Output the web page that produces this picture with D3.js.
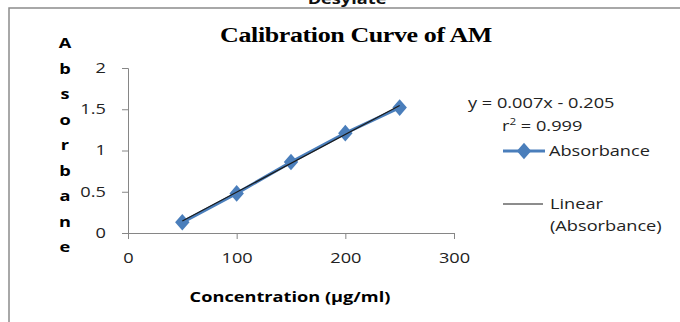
<!DOCTYPE html>
<html><head><meta charset="utf-8">
<script src="https://cdn.jsdelivr.net/npm/d3@7"></script>
<style>body{margin:0;background:#fff}svg{display:block}</style>
</head><body>
<script>
const concentrations = [50, 100, 150, 200, 250];
const absorbance = [0.13, 0.48, 0.86, 1.21, 1.52];
const xTicks = [0, 100, 200, 300];
const yTicks = [0, 0.5, 1, 1.5, 2];
const slope = 0.007, intercept = -0.205;
const yLabelLetters = ["A","b","s","o","r","b","a","n","e"];

const W = 680, H = 322;
const SX = 1.3; // horizontal stretch of the reference picture
const svg = d3.select("body").append("svg").attr("width", W).attr("height", H);
const sans = "'Open Sans', 'DejaVu Sans', sans-serif";
const serif = "'Liberation Serif', 'Times New Roman', serif";

function txt(xp, yp, s, opts = {}) {
  const g = svg.append("g").attr("transform", `translate(${xp},${yp}) scale(${SX},1)`);
  const t = g.append("text")
    .attr("text-anchor", opts.anchor || "start")
    .attr("font-family", opts.family || sans)
    .attr("font-weight", opts.weight || "normal")
    .attr("font-size", opts.size || 14)
    .attr("fill", opts.fill || "#222");
  if (opts.html) t.html(s); else t.text(s);
  return t;
}

// outer frame
svg.append("rect").attr("x", 9).attr("y", 8).attr("width", W).attr("height", H)
  .attr("fill", "none").attr("stroke", "#8c8c8c").attr("stroke-width", 1.5);

// cut-off heading above
txt(347, 4, "Desylate", { anchor: "middle", weight: "bold", size: 14, fill: "#111" });

const x = d3.scaleLinear().domain([0, 300]).range([128, 454]);
const y = d3.scaleLinear().domain([0, 2]).range([233, 68]);

const axisColor = "#868686";
const gx = svg.append("g").attr("transform", `translate(0,${y(0)})`)
  .call(d3.axisBottom(x).tickValues(xTicks).tickSize(6).tickPadding(14).tickFormat(d3.format("d")));
const gy = svg.append("g").attr("transform", `translate(${x(0)},0)`)
  .call(d3.axisLeft(y).tickValues(yTicks).tickSize(6).tickPadding(11).tickFormat(d => d));
[gx, gy].forEach(g => {
  g.select(".domain").attr("stroke", axisColor);
  g.selectAll(".tick line").attr("stroke", axisColor);
  g.selectAll(".tick text").attr("fill", "#222").attr("font-family", sans).attr("font-size", 14)
    .attr("transform", `scale(${SX},1)`);
});

// data series
const pts = concentrations.map((c, i) => [c, absorbance[i]]);
const blue = "#4a7ebb";
svg.append("path").datum(pts)
  .attr("d", d3.line().x(d => x(d[0])).y(d => y(d[1])))
  .attr("fill", "none").attr("stroke", blue).attr("stroke-width", 3.2);
const diamond = d3.symbol().type(d3.symbolDiamond).size(80);
svg.selectAll(".pt").data(pts).enter().append("path")
  .attr("transform", d => `translate(${x(d[0])},${y(d[1])}) scale(1.5,1)`)
  .attr("d", diamond).attr("fill", blue);

// trendline
const xr = d3.extent(concentrations);
svg.append("line")
  .attr("x1", x(xr[0])).attr("y1", y(slope * xr[0] + intercept))
  .attr("x2", x(xr[1])).attr("y2", y(slope * xr[1] + intercept))
  .attr("stroke", "#1a1a1a").attr("stroke-width", 1.2);

// title
txt(356, 42, "Calibration Curve of AM", { anchor: "middle", family: serif, weight: "bold", size: 20, fill: "#000" })
  .attr("letter-spacing", -0.3);

// y label stacked letters
yLabelLetters.forEach((l, i) => txt(65, 48 + i * 25.5, l, { anchor: "middle", weight: "bold", size: 14, fill: "#000" }));

// x label
txt(290, 302, "Concentration (\u00b5g/ml)", { anchor: "middle", weight: "bold", size: 14, fill: "#000" });

// equation
txt(468, 108, `y = ${slope}x - ${Math.abs(intercept)}`);
txt(502, 131, "r<tspan baseline-shift='super' font-size='9'>2</tspan> = 0.999", { html: true });

// legend
svg.append("line").attr("x1", 503).attr("x2", 545).attr("y1", 151).attr("y2", 151)
  .attr("stroke", blue).attr("stroke-width", 3.2);
svg.append("path").attr("transform", "translate(524,151) scale(1.5,1)").attr("d", diamond).attr("fill", blue);
txt(549, 156, "Absorbance");
svg.append("line").attr("x1", 503).attr("x2", 543).attr("y1", 204).attr("y2", 204)
  .attr("stroke", "#1a1a1a").attr("stroke-width", 1);
txt(550, 209, "Linear");
txt(550, 231, "(Absorbance)");
</script>
</body></html>
